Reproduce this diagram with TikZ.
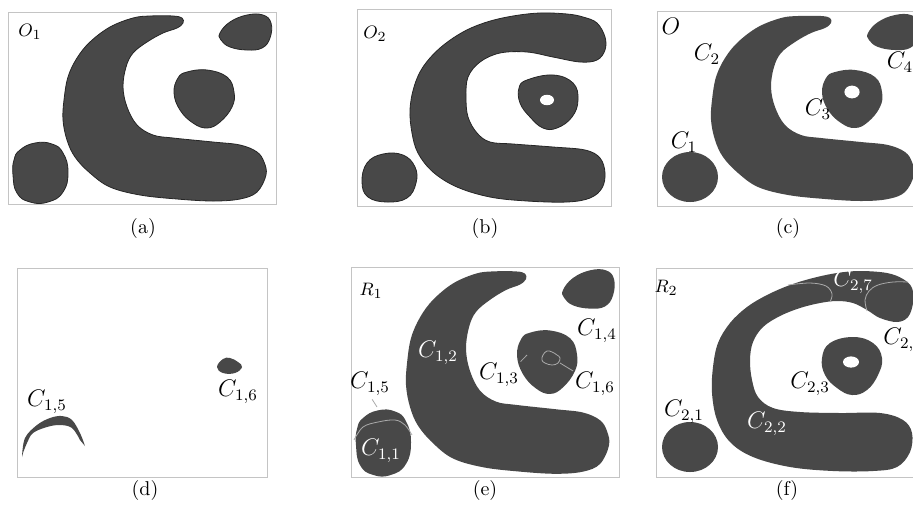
\documentclass[tikz,border=0pt]{standalone}

\definecolor{regiongray}{RGB}{72,72,72}
\definecolor{framegray}{RGB}{196,196,196}
\definecolor{seamgray}{RGB}{170,170,170}

\tikzset{
  panel/.style={draw=framegray, line width=0.5pt},
  region/.style={fill=regiongray},
  edged/.style={fill=regiongray, draw=black!85, line width=0.4pt},
  seam/.style={draw=seamgray, line width=0.4pt},
  lbl/.style={inner sep=0pt, font=\fontsize{11.5}{13}\selectfont},
  lblw/.style={lbl, text=white},
  tag/.style={inner sep=0pt, font=\fontsize{9.5}{11}\selectfont},
  capt/.style={inner sep=0pt, font=\fontsize{10}{12}\selectfont}
}

% shapes of panel (a), in its own pixel coordinates
\newcommand{\bendA}{plot[smooth cycle, tension=0.6] coordinates {(182,18) (173,16) (150,16) (133,18)
  (110,27) (90,42) (77,58) (68,77) (64,100) (63,120) (67,140) (75,157) (90,173) (110,187)
  (140,195) (177,199) (213,201) (240,199) (257,192) (266,175) (264,162) (257,152) (240,145)
  (213,142) (173,138) (153,135) (137,125) (127,107) (123,87) (126,67) (133,53) (147,42)
  (163,33) (177,28) (183,23)}}
\newcommand{\capA}{plot[smooth cycle, tension=0.7] coordinates {(220,33) (230,22) (247,15)
  (263,15) (271,23) (270,38) (262,48) (247,50) (230,47) (221,40)}}
\newcommand{\midA}{plot[smooth cycle, tension=0.7] coordinates {(187,72) (207,70) (227,77)
  (234,92) (232,107) (220,122) (207,128) (193,123) (180,110) (174,93) (178,78)}}
\newcommand{\footA}{plot[smooth cycle, tension=0.8] coordinates {(20,150) (35,143) (52,144)
  (63,153) (68,172) (63,192) (48,202) (30,202) (17,193) (13,175) (14,160)}}

\begin{document}
\begin{tikzpicture}[x=0.5pt, y=-0.5pt]
  \useasboundingbox (0,0) rectangle (913,510);

  % frames
  \draw[panel] (8,12) rectangle (276,204);
  \draw[panel] (357,9) rectangle (611,206);
  \draw[panel] (657,11) rectangle (925,206);
  \draw[panel] (17,268) rectangle (267,477);
  \draw[panel] (351,267) rectangle (619,477);
  \draw[panel] (656,268) rectangle (925,477);

  % (a)
  \path[edged] \bendA;
  \path[edged] \capA;
  \path[edged] \midA;
  \path[edged] \footA;
  \node[tag] (a-O) at (30,32) {$O_1$};
  \node[capt] (a-cap) at (143,228) {(a)};

  % (b)
  \path[edged] plot[smooth cycle, tension=0.6] coordinates {(583,17) (567,14) (540,13) (513,16)
    (487,22) (463,32) (440,48) (423,67) (414,87) (410,110) (412,133) (418,153) (433,172)
    (457,187) (490,197) (527,201) (567,202) (590,198) (602,188) (605,173) (600,158) (585,150)
    (553,147) (513,144) (490,142) (477,133) (468,117) (466,97) (468,77) (480,62) (500,53)
    (527,52) (553,57) (580,62) (597,60) (605,50) (605,37) (597,23)};
  \path[edged] plot[smooth cycle, tension=0.7] coordinates {(527,80) (553,75) (573,83) (578,100)
    (572,117) (557,128) (543,128) (530,117) (520,103) (519,88)};
  \fill[white] (547,100) ellipse [x radius=3.5pt, y radius=2.6pt];
  \path[edged] plot[smooth cycle, tension=0.7] coordinates {(367,163) (383,154) (403,155)
    (415,167) (416,183) (407,198) (387,202) (368,197) (362,182)};
  \node[tag] (b-O) at (375,34) {$O_2$};
  \node[capt] (b-cap) at (485,228) {(b)};

  % (c)
  \begin{scope}[shift={(648,0)}]
    \fill[region] \bendA;
    \fill[region] \capA;
    \fill[region] \midA;
  \end{scope}
  \fill[white] (852,92) ellipse [x radius=3.8pt, y radius=3.2pt];
  \fill[region] (690,177) ellipse [x radius=14pt, y radius=12.5pt];
  \node[lbl] (c-O) at (671,26) {$O$};
  \node[lbl] (c-1) at (684,142) {$C_1$};
  \node[lbl] (c-2) at (707,54) {$C_2$};
  \node[lbl] (c-3) at (818,109) {$C_3$};
  \node[lbl] (c-4) at (900,62) {$C_4$};
  \node[capt] (c-cap) at (788,228) {(c)};

  % (d)
  \fill[region] plot[smooth, tension=0.6] coordinates {(22,457) (25,438) (37,425) (50,418)
    (62,416) (72,420) (80,433) (85,446)}
    -- plot[smooth, tension=0.6] coordinates {(80,440) (72,428) (60,425) (47,427) (33,433)
    (27,443) (23,453)} -- cycle;
  \fill[region] plot[smooth cycle, tension=0.7] coordinates {(217,367) (223,359) (230,358)
    (238,362) (242,367) (235,373) (223,373)};
  \node[lbl] (d-15) at (47,402) {$C_{1,5}$};
  \node[lbl] (d-16) at (238,392) {$C_{1,6}$};
  \node[capt] (d-cap) at (145,490) {(d)};

  % (e)
  \begin{scope}[shift={(343,253.9)}, yscale=1.094]
    \fill[region] \bendA;
    \fill[region] \capA;
    \fill[region] \midA;
    \fill[region] \footA;
  \end{scope}
  \draw[seam] plot[smooth, tension=0.6] coordinates {(354,440) (363,427) (378,422) (395,420)
    (405,425) (412,435)};
  \draw[seam] plot[smooth cycle, tension=0.7] coordinates {(543,355) (547,351) (552,352)
    (557,355) (560,358) (558,363) (552,365) (545,363) (542,360)};
  \coordinate (e-15tip) at (377,407);
  \coordinate (e-13tip) at (527,355);
  \coordinate (e-16tip) at (560,363);
  \node[tag] (e-R) at (371,291) {$R_1$};
  \node[lbl] (e-15) at (370,384) {$C_{1,5}$};
  \node[lblw] (e-11) at (381,451) {$C_{1,1}$};
  \node[lblw] (e-12) at (438,353) {$C_{1,2}$};
  \node[lbl] (e-13) at (499,375) {$C_{1,3}$};
  \node[lbl] (e-14) at (597,331) {$C_{1,4}$};
  \node[lbl] (e-16) at (595,384) {$C_{1,6}$};
  \draw[seam, shorten <=2pt] (e-15.south) -- (e-15tip);
  \draw[seam, shorten <=1pt] (e-13.north east) -- (e-13tip);
  \draw[seam, shorten >=1pt] (e-16tip) -- (e-16.north west);
  \node[capt] (e-cap) at (485,490) {(e)};

  % (f)
  \fill[region] plot[smooth cycle, tension=0.6] coordinates {(912,288) (913,303) (908,317)
    (897,322) (880,318) (867,310) (853,303) (837,301) (820,303) (800,308) (780,316) (763,327)
    (753,342) (750,360) (752,380) (758,397) (773,408) (800,412) (840,413) (880,413) (903,420)
    (912,433) (910,452) (897,467) (873,471) (833,471) (790,467) (753,457) (730,442) (717,420)
    (712,393) (713,367) (718,343) (730,323) (747,307) (767,295) (790,285) (813,278) (837,273)
    (860,271) (887,273) (903,279)};
  \fill[region] plot[smooth cycle, tension=0.7] coordinates {(830,343) (853,337) (873,343)
    (882,358) (878,375) (867,390) (852,395) (837,388) (825,375) (822,358)};
  \fill[white] (851,362) ellipse [x radius=4pt, y radius=2.8pt];
  \fill[region] (690,447) ellipse [x radius=14pt, y radius=12.5pt];
  \draw[seam] plot[smooth, tension=0.6] coordinates {(788,285) (810,283) (826,286) (832,294)
    (830,302)};
  \draw[seam] plot[smooth, tension=0.6] coordinates {(867,311) (865,300) (869,291) (878,285)
    (893,282) (908,282)};
  \node[tag] (f-R) at (666,288) {$R_2$};
  \node[lbl] (f-21) at (684,412) {$C_{2,1}$};
  \node[lblw] (f-22) at (767,424) {$C_{2,2}$};
  \node[lbl] (f-23) at (810,384) {$C_{2,3}$};
  \node[lbl, anchor=west] (f-24) at (883,340) {$C_{2,4}$};
  \node[lblw] (f-27) at (853,282) {$C_{2,7}$};
  \node[capt] (f-cap) at (787,490) {(f)};
\end{tikzpicture}
\end{document}
